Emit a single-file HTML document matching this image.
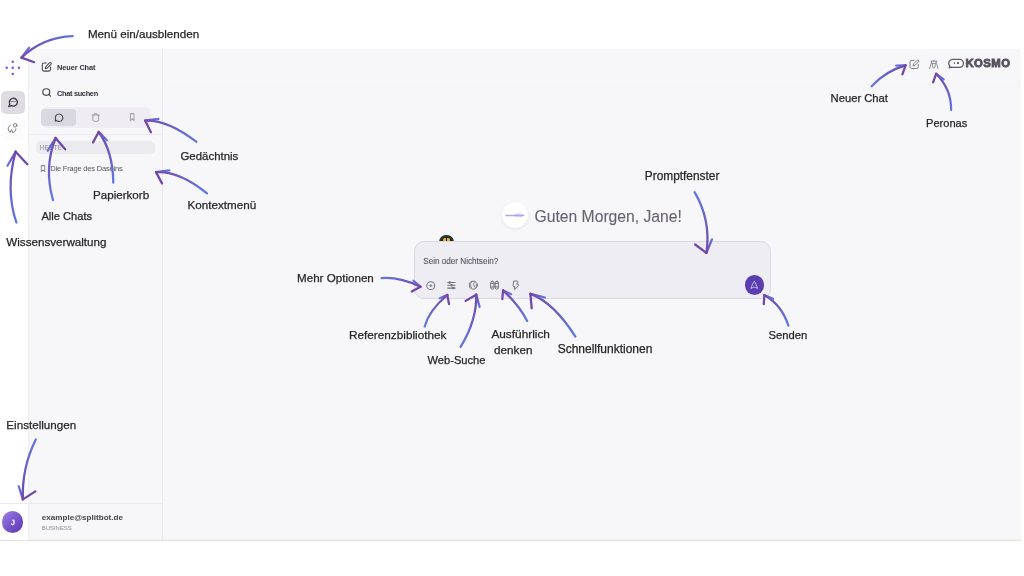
<!DOCTYPE html><html><head><meta charset="utf-8"><style>
*{box-sizing:border-box;margin:0;padding:0}
html,body{width:1024px;height:576px;overflow:hidden;background:#fff}
body{position:relative;font-family:"Liberation Sans",sans-serif}
.abs,.t,.lbl,.ic{position:absolute}
.t,.lbl{white-space:nowrap}
.lbl{-webkit-text-stroke:0.25px #262626}
.ic{overflow:visible}
#wrap{position:absolute;left:0;top:0;width:1024px;height:576px;will-change:transform}
</style></head><body><div id="wrap">
<div class="abs" style="left:0px;top:49px;width:1021px;height:491px;background:#f7f7f9;"></div>
<div class="abs" style="left:0px;top:539px;width:1021px;height:1px;background:#f1f1f3;"></div>
<div class="abs" style="left:0px;top:540px;width:1021px;height:1px;background:#e3e3dc;"></div>
<div class="abs" style="left:163px;top:83px;width:858px;height:8px;background:linear-gradient(#f7f7f9,#f6f5f8 50%,#f7f7f9);"></div>
<div class="abs" style="left:0px;top:49px;width:28px;height:491px;background:#ffffff;"></div>
<div class="abs" style="left:28px;top:49px;width:1px;height:491px;background:#f0eff3;"></div>
<div class="abs" style="left:162px;top:49px;width:1px;height:491px;background:#e9e8ed;"></div>
<div class="abs" style="left:28px;top:134px;width:134px;height:1px;background:#ebeaee;"></div>
<div class="abs" style="left:0px;top:503px;width:162px;height:1px;background:#ebeaee;"></div>
<svg class="ic" style="left:4px;top:58px;width:18px;height:20px" viewBox="4 58 18 20" fill="#8446ec" stroke="none" stroke-width="0" stroke-linecap="round" stroke-linejoin="round"><circle cx="12.8" cy="61.699999999999996" r="1.2"/><circle cx="6.700000000000001" cy="67.8" r="1.2"/><circle cx="12.8" cy="67.8" r="1.2"/><circle cx="18.9" cy="67.8" r="1.2"/><circle cx="12.8" cy="73.89999999999999" r="1.2"/></svg>
<div class="abs" style="left:1px;top:90.5px;width:23.7px;height:23.3px;background:#dedce2;border-radius:5px"></div>
<svg class="ic" style="left:7.53px;top:96.66px;width:10.74px;height:10.38px;" viewBox="0 0 24 24" preserveAspectRatio="none" fill="none" stroke="#47424e" stroke-width="3.30" stroke-linecap="round" stroke-linejoin="round"><path d="M7.9 20A9 9 0 1 0 4 16.1L2 22Z"/></svg>
<div class="abs" style="left:10.3px;top:101.2px;width:5.4px;height:1.2px;background:#8f8a96;border-radius:1px"></div>
<div class="abs" style="left:1px;top:115.8px;width:24.7px;height:24px;background:#fcfcfd;border-radius:5px"></div>
<svg class="ic" style="left:4px;top:119px;width:18px;height:18px" viewBox="4 119 18 18" fill="none" stroke="#827d8b" stroke-width="1.0" stroke-linecap="round" stroke-linejoin="round"><circle cx="15.2" cy="125.3" r="1.8"/><path d="M10.3 125.2C7.6 126.6 7.4 131.2 10.2 132.2"/><path d="M10.2 132.2 11.6 129.6 12.6 132.4"/><path d="M12.6 132.4C14.6 132.6 15.9 131 15.9 128.9"/></svg>
<svg class="ic" style="left:40px;top:60px;width:14px;height:14px" viewBox="40 60 14 14" fill="none" stroke="#47424e" stroke-width="1.05" stroke-linecap="round" stroke-linejoin="round"><path d="M46.3 62.95H44.1a1.8 1.8 0 0 0-1.8 1.8v4.55a1.8 1.8 0 0 0 1.8 1.8h4.7a1.8 1.8 0 0 0 1.8-1.8v-2.2"/><path d="M49.4 62.9a1.05 1.05 0 0 1 1.5 1.5l-3.7 3.7-1.9.55.55-1.9z"/></svg>
<div class="t" style="left:57.10px;top:64.14px;font-size:7.4px;line-height:7.4px;font-weight:700;color:#332e3c;letter-spacing:-0.12px;">Neuer Chat</div>
<svg class="ic" style="left:41.80px;top:87.84px;width:9.30px;height:8.82px;" viewBox="0 0 24 24" preserveAspectRatio="none" fill="none" stroke="#47424e" stroke-width="3.05" stroke-linecap="round" stroke-linejoin="round"><circle cx="11" cy="11" r="9"/><path d="m22 22-4.6-4.6"/></svg>
<div class="t" style="left:57.00px;top:89.84px;font-size:7.4px;line-height:7.4px;font-weight:700;color:#332e3c;letter-spacing:-0.32px;">Chat suchen</div>
<div class="abs" style="left:40.5px;top:107.2px;width:110.5px;height:20.4px;background:#efedf3;border-radius:6px"></div>
<div class="abs" style="left:41.2px;top:109px;width:34.7px;height:16.7px;background:#d9d7df;border-radius:4px"></div>
<svg class="ic" style="left:52px;top:111px;width:14px;height:13px" viewBox="52 111 14 13" fill="none" stroke="#4a4550" stroke-width="1.1" stroke-linecap="round" stroke-linejoin="round"><path d="M56.3 120.3A3.75 3.75 0 1 0 55.5 118.9L55.3 121.1Z"/></svg>
<svg class="ic" style="left:89px;top:111px;width:14px;height:13px" viewBox="89 111 14 13" fill="none" stroke="#a29da8" stroke-width="1.0" stroke-linecap="round" stroke-linejoin="round"><path d="M92.1 115H99.3M94.4 115v-.8a.7.7 0 0 1 .7-.7h1.2a.7.7 0 0 1 .7.7v.8M92.9 115.1v4.8a1.3 1.3 0 0 0 1.3 1.3h3.1a1.3 1.3 0 0 0 1.3-1.3v-4.8"/></svg>
<svg class="ic" style="left:128.62px;top:113.37px;width:6.36px;height:8.16px;" viewBox="0 0 24 24" preserveAspectRatio="none" fill="none" stroke="#a29da8" stroke-width="3.64" stroke-linecap="round" stroke-linejoin="round"><path d="m19 22-7-5-7 5V4a2 2 0 0 1 2-2h10a2 2 0 0 1 2 2z"/></svg>
<div class="abs" style="left:35.6px;top:141.1px;width:119.3px;height:13.1px;background:#ebeaee;border-radius:5px"></div>
<div class="t" style="left:39.80px;top:145.07px;font-size:6.3px;line-height:6.3px;font-weight:400;color:#8f8a96;letter-spacing:0.2px;">HEUTE</div>
<svg class="ic" style="left:39.80px;top:164.51px;width:6.00px;height:7.08px;" viewBox="0 0 24 24" preserveAspectRatio="none" fill="none" stroke="#8a8590" stroke-width="3.67" stroke-linecap="round" stroke-linejoin="round"><path d="m19 22-7-5-7 5V4a2 2 0 0 1 2-2h10a2 2 0 0 1 2 2z"/></svg>
<div class="t" style="left:50.20px;top:165.49px;font-size:7.45px;line-height:7.45px;font-weight:400;color:#58535f;letter-spacing:-0.16px;">Die Frage des Daseins</div>
<div class="abs" style="left:1.9px;top:511.3px;width:21.6px;height:21.6px;background:linear-gradient(135deg,#9d7fea,#5a32ad);border-radius:50%"></div>
<div class="t" style="left:10.90px;top:519.07px;font-size:7.6px;line-height:7.6px;font-weight:400;color:#ffffff;letter-spacing:0px;-webkit-text-stroke:0.3px #fff">J</div>
<div class="t" style="left:41.80px;top:513.94px;font-size:8.1px;line-height:8.1px;font-weight:700;color:#48434f;letter-spacing:0px;">example@splitbot.de</div>
<div class="t" style="left:41.80px;top:524.82px;font-size:6.0px;line-height:6.0px;font-weight:400;color:#8f8a96;letter-spacing:-0.05px;">BUSINESS</div>
<svg class="ic" style="left:906px;top:56px;width:16px;height:16px" viewBox="906 56 16 16" fill="none" stroke="#7d7885" stroke-width="1.0" stroke-linecap="round" stroke-linejoin="round"><g transform="translate(867.7 -2.6)"><path d="M46.3 62.95H44.1a1.8 1.8 0 0 0-1.8 1.8v4.55a1.8 1.8 0 0 0 1.8 1.8h4.7a1.8 1.8 0 0 0 1.8-1.8v-2.2"/><path d="M49.4 62.9a1.05 1.05 0 0 1 1.5 1.5l-3.7 3.7-1.9.55.55-1.9z"/></g></svg>
<svg class="ic" style="left:927px;top:58px;width:14px;height:12px" viewBox="927 58 14 12" fill="none" stroke="#7d7885" stroke-width="0.85" stroke-linecap="round" stroke-linejoin="round"><path d="M931 61.2h5.7M931.5 61.2v2.2h4.7v-2.2M933.85 60.3v.9M932.4 63.8q0 4.5 1.45 4.5t1.45-4.5M931 63.7l-1.3 4.8M936.7 63.7l1.3 4.8"/></svg>
<svg class="ic" style="left:946px;top:56px;width:20px;height:14px" viewBox="946 56 20 14" fill="none" stroke="#625c6a" stroke-width="1.3" stroke-linecap="round" stroke-linejoin="round"><path d="M953 59.3h6.4a4.05 4.05 0 0 1 0 8.1h-6.4c-.5 0-1-.1-1.5-.3l-2.3.8.5-1.9a4.05 4.05 0 0 1 3.3-6.7z"/></svg>
<div class="abs" style="left:953.6px;top:62px;width:1.5px;height:2.2px;background:#625c6a;border-radius:.6px"></div>
<div class="abs" style="left:957.3px;top:62px;width:1.5px;height:2.2px;background:#625c6a;border-radius:.6px"></div>
<div class="t" style="left:965.50px;top:57.83px;font-size:11.3px;line-height:11.3px;font-weight:700;color:#57515e;letter-spacing:0.45px;-webkit-text-stroke:0.85px #57515e">KOSMO</div>
<div class="abs" style="left:502px;top:202.4px;width:25.7px;height:25.7px;background:#fff;border-radius:50%;box-shadow:0 1px 3px rgba(60,50,90,.12)"></div>
<svg class="ic" style="left:503px;top:210px;width:24px;height:10px" viewBox="503 210 24 10" fill="none" stroke="#a99cf0" stroke-width="1.2" stroke-linecap="round" stroke-linejoin="round"><ellipse cx="518.8" cy="215.2" rx="4.6" ry="1.9" fill="#dcd6f8" stroke="none"/><path d="M506 215.5h17.6" stroke="#aea5ee" stroke-width="1.5"/></svg>
<div class="t" style="left:534.50px;top:208.61px;font-size:15.7px;line-height:15.7px;font-weight:400;color:#67626f;letter-spacing:0px;-webkit-text-stroke:0.1px #67626f">Guten Morgen, Jane!</div>
<div class="abs" style="left:439px;top:234.6px;width:15px;height:7.5px;border-radius:8px 8px 0 0;background:#1e3a2b;overflow:hidden"><div class="abs" style="left:2.2px;top:2.2px;width:10.6px;height:8px;border-radius:6px 6px 0 0;background:#2a1a10"></div><div class="abs" style="left:4.4px;top:3.6px;width:3px;height:4px;background:#e9b030;border-radius:1.5px 0 0 0"></div><div class="abs" style="left:7.6px;top:3.6px;width:3px;height:4px;background:#e9b030;border-radius:0 1.5px 0 0"></div></div>
<div class="abs" style="left:414.3px;top:240.8px;width:356.7px;height:58.4px;background:#efedf4;border-radius:10px;border:1px solid #dcd8e3"></div>
<div class="t" style="left:423.20px;top:258.36px;font-size:8.2px;line-height:8.2px;font-weight:400;color:#57525f;letter-spacing:-0.02px;-webkit-text-stroke:0.1px #57525f">Sein oder Nichtsein?</div>
<svg class="ic" style="left:425.81px;top:280.52px;width:9.48px;height:9.36px;" viewBox="0 0 24 24" preserveAspectRatio="none" fill="none" stroke="#75707d" stroke-width="2.55" stroke-linecap="round" stroke-linejoin="round"><circle cx="12" cy="12" r="10"/><path d="M9 12h6"/><path d="M12 9v6"/></svg>
<svg class="ic" style="left:447.31px;top:280.94px;width:8.88px;height:8.52px;" viewBox="0 0 24 24" preserveAspectRatio="none" fill="none" stroke="#75707d" stroke-width="3.03" stroke-linecap="round" stroke-linejoin="round"><path d="M22 4h-12M5 4H2M22 12h-7M10 12H2M22 20h-3M14 20H2"/><circle cx="7.5" cy="4" r="2" /><circle cx="12.5" cy="12" r="2"/><circle cx="17" cy="20" r="2"/></svg>
<svg class="ic" style="left:466px;top:278px;width:15px;height:14px" viewBox="466 278 15 14" fill="none" stroke="#75707d" stroke-width="0.95" stroke-linecap="round" stroke-linejoin="round"><circle cx="473.35" cy="285.15" r="4.05"/><path d="M472.2 281.6c-1.5 1-2.1 2.6-1.7 4.3.2.9.8 1.3 1.3 1.7"/><path d="M475 282.2c-.9.6-1.6 1.6-1.5 2.6.1.9.9 1.3 1.5 1.9.4.5.3 1.1.1 1.6"/><path d="M476.5 284.3c-.4.9-.3 1.6.1 2.3"/></svg>
<svg class="ic" style="left:489px;top:279px;width:11px;height:12px" viewBox="489 279 11 12" fill="none" stroke="#75707d" stroke-width="1.0" stroke-linecap="round" stroke-linejoin="round"><rect x="490.7" y="281.2" width="3.2" height="8" rx="1.6"/><rect x="495.2" y="281.2" width="3.2" height="8" rx="1.6"/><path d="M490.7 283.3h7.7M490.7 287h3.2M495.2 287h3.2"/></svg>
<svg class="ic" style="left:511px;top:279px;width:10px;height:12px" viewBox="511 279 10 12" fill="none" stroke="#75707d" stroke-width="1.0" stroke-linecap="round" stroke-linejoin="round"><path d="M514 281.1h3.2c.8 0 1 .6.7 1.2l-1.2 1.9h1.2c.8 0 1 .7.5 1.3l-3.3 3.8c-.5.5-1.1.1-.9-.5l.8-2.3h-1.2c-.8 0-1-.6-.8-1.2z"/></svg>
<div class="abs" style="left:744.6px;top:275.3px;width:19.5px;height:19.5px;background:#5a3db0;border-radius:50%"></div>
<svg class="ic" style="left:748px;top:278px;width:13px;height:14px" viewBox="748 278 13 14" fill="none" stroke="#d3c9f0" stroke-width="0.95" stroke-linecap="round" stroke-linejoin="round"><path d="M754.3 281.6c-1.3 1.2-2.7 4.1-3.1 6.9l1.4-.85c1.05-.6 2.35-.6 3.4 0l1.4.85c-.4-2.8-1.8-5.7-3.1-6.9z"/></svg>
<div class="lbl" style="left:87.90px;top:28.34px;font-size:11.65px;line-height:11.65px;color:#262626">Menü ein/ausblenden</div>
<div class="lbl" style="left:180.40px;top:150.90px;font-size:11.46px;line-height:11.46px;color:#262626">Gedächtnis</div>
<div class="lbl" style="left:187.60px;top:199.14px;font-size:11.65px;line-height:11.65px;color:#262626">Kontextmenü</div>
<div class="lbl" style="left:93.00px;top:188.92px;font-size:11.61px;line-height:11.61px;color:#262626">Papierkorb</div>
<div class="lbl" style="left:41.40px;top:210.77px;font-size:11.14px;line-height:11.14px;color:#262626">Alle Chats</div>
<div class="lbl" style="left:6.25px;top:236.14px;font-size:11.65px;line-height:11.65px;color:#262626">Wissensverwaltung</div>
<div class="lbl" style="left:6.35px;top:419.15px;font-size:11.63px;line-height:11.63px;color:#262626">Einstellungen</div>
<div class="lbl" style="left:644.80px;top:171.34px;font-size:11.88px;line-height:11.88px;color:#262626">Promptfenster</div>
<div class="lbl" style="left:297.00px;top:272.16px;font-size:11.62px;line-height:11.62px;color:#262626">Mehr Optionen</div>
<div class="lbl" style="left:349.00px;top:328.78px;font-size:11.77px;line-height:11.77px;color:#262626">Referenzbibliothek</div>
<div class="lbl" style="left:427.50px;top:354.76px;font-size:11.15px;line-height:11.15px;color:#262626">Web-Suche</div>
<div class="lbl" style="left:491.40px;top:329.48px;font-size:11.84px;line-height:11.84px;color:#262626">Ausführlich</div>
<div class="lbl" style="left:494.00px;top:343.59px;font-size:11.71px;line-height:11.71px;color:#262626">denken</div>
<div class="lbl" style="left:557.70px;top:342.85px;font-size:11.99px;line-height:11.99px;color:#262626">Schnellfunktionen</div>
<div class="lbl" style="left:768.50px;top:329.50px;font-size:11.22px;line-height:11.22px;color:#262626">Senden</div>
<div class="lbl" style="left:830.60px;top:93.31px;font-size:11.21px;line-height:11.21px;color:#262626">Neuer Chat</div>
<div class="lbl" style="left:926.00px;top:117.82px;font-size:11.08px;line-height:11.08px;color:#262626">Peronas</div>
<svg class="abs" style="left:0;top:0;width:1024px;height:576px;overflow:visible" viewBox="0 0 1024 576"><defs><linearGradient id="g0" gradientUnits="userSpaceOnUse" x1="72.75" y1="36.1" x2="21.5" y2="57.6"><stop offset="0" stop-color="#6077e2"/><stop offset="1" stop-color="#7147a8"/></linearGradient><linearGradient id="w0" gradientUnits="userSpaceOnUse" x1="29.1" y1="47.8" x2="21.5" y2="57.6"><stop offset="0" stop-color="#6077e2"/><stop offset="1" stop-color="#7147a8"/></linearGradient><linearGradient id="g1" gradientUnits="userSpaceOnUse" x1="196.25" y1="141.7" x2="145.2" y2="120.6"><stop offset="0" stop-color="#6077e2"/><stop offset="1" stop-color="#7147a8"/></linearGradient><linearGradient id="w1" gradientUnits="userSpaceOnUse" x1="158.5" y1="118.9" x2="145.2" y2="120.6"><stop offset="0" stop-color="#6077e2"/><stop offset="1" stop-color="#7147a8"/></linearGradient><linearGradient id="g2" gradientUnits="userSpaceOnUse" x1="207" y1="193.4" x2="156" y2="172.1"><stop offset="0" stop-color="#6077e2"/><stop offset="1" stop-color="#7147a8"/></linearGradient><linearGradient id="w2" gradientUnits="userSpaceOnUse" x1="169.3" y1="170.3" x2="156" y2="172.1"><stop offset="0" stop-color="#6077e2"/><stop offset="1" stop-color="#7147a8"/></linearGradient><linearGradient id="g3" gradientUnits="userSpaceOnUse" x1="113.3" y1="182.7" x2="98.7" y2="132"><stop offset="0" stop-color="#6077e2"/><stop offset="1" stop-color="#7147a8"/></linearGradient><linearGradient id="w3" gradientUnits="userSpaceOnUse" x1="106.9" y1="140.3" x2="98.7" y2="132"><stop offset="0" stop-color="#6077e2"/><stop offset="1" stop-color="#7147a8"/></linearGradient><linearGradient id="g4" gradientUnits="userSpaceOnUse" x1="53" y1="200" x2="55.6" y2="138"><stop offset="0" stop-color="#6077e2"/><stop offset="1" stop-color="#7147a8"/></linearGradient><linearGradient id="w4" gradientUnits="userSpaceOnUse" x1="47.8" y1="150.7" x2="55.6" y2="138"><stop offset="0" stop-color="#6077e2"/><stop offset="1" stop-color="#7147a8"/></linearGradient><linearGradient id="g5" gradientUnits="userSpaceOnUse" x1="16.4" y1="222.5" x2="15.6" y2="151.7"><stop offset="0" stop-color="#6077e2"/><stop offset="1" stop-color="#7147a8"/></linearGradient><linearGradient id="w5" gradientUnits="userSpaceOnUse" x1="7.5" y1="165.8" x2="15.6" y2="151.7"><stop offset="0" stop-color="#6077e2"/><stop offset="1" stop-color="#7147a8"/></linearGradient><linearGradient id="g6" gradientUnits="userSpaceOnUse" x1="35.8" y1="439.4" x2="22.9" y2="499.4"><stop offset="0" stop-color="#6077e2"/><stop offset="1" stop-color="#7147a8"/></linearGradient><linearGradient id="w6" gradientUnits="userSpaceOnUse" x1="18.75" y1="486.25" x2="22.9" y2="499.4"><stop offset="0" stop-color="#6077e2"/><stop offset="1" stop-color="#7147a8"/></linearGradient><linearGradient id="g7" gradientUnits="userSpaceOnUse" x1="694.6" y1="192.1" x2="706.4" y2="252.9"><stop offset="0" stop-color="#6077e2"/><stop offset="1" stop-color="#7147a8"/></linearGradient><linearGradient id="w7" gradientUnits="userSpaceOnUse" x1="712" y1="239.3" x2="706.4" y2="252.9"><stop offset="0" stop-color="#6077e2"/><stop offset="1" stop-color="#7147a8"/></linearGradient><linearGradient id="g8" gradientUnits="userSpaceOnUse" x1="381.55" y1="278.07" x2="420.46" y2="286.76"><stop offset="0" stop-color="#6077e2"/><stop offset="1" stop-color="#7147a8"/></linearGradient><linearGradient id="w8" gradientUnits="userSpaceOnUse" x1="413.5" y1="280.8" x2="420.46" y2="286.76"><stop offset="0" stop-color="#6077e2"/><stop offset="1" stop-color="#7147a8"/></linearGradient><linearGradient id="g9" gradientUnits="userSpaceOnUse" x1="424.7" y1="326.5" x2="447.3" y2="295"><stop offset="0" stop-color="#6077e2"/><stop offset="1" stop-color="#7147a8"/></linearGradient><linearGradient id="w9" gradientUnits="userSpaceOnUse" x1="439.8" y1="298.3" x2="447.3" y2="295"><stop offset="0" stop-color="#6077e2"/><stop offset="1" stop-color="#7147a8"/></linearGradient><linearGradient id="g10" gradientUnits="userSpaceOnUse" x1="460.6" y1="346.8" x2="476.25" y2="294.7"><stop offset="0" stop-color="#6077e2"/><stop offset="1" stop-color="#7147a8"/></linearGradient><linearGradient id="w10" gradientUnits="userSpaceOnUse" x1="479.6" y1="306.9" x2="476.25" y2="294.7"><stop offset="0" stop-color="#6077e2"/><stop offset="1" stop-color="#7147a8"/></linearGradient><linearGradient id="g11" gradientUnits="userSpaceOnUse" x1="527.1" y1="320.9" x2="503.1" y2="290.4"><stop offset="0" stop-color="#6077e2"/><stop offset="1" stop-color="#7147a8"/></linearGradient><linearGradient id="w11" gradientUnits="userSpaceOnUse" x1="511.1" y1="294.2" x2="503.1" y2="290.4"><stop offset="0" stop-color="#6077e2"/><stop offset="1" stop-color="#7147a8"/></linearGradient><linearGradient id="g12" gradientUnits="userSpaceOnUse" x1="575.4" y1="336.6" x2="530.4" y2="293.9"><stop offset="0" stop-color="#6077e2"/><stop offset="1" stop-color="#7147a8"/></linearGradient><linearGradient id="w12" gradientUnits="userSpaceOnUse" x1="545" y1="297.5" x2="530.4" y2="293.9"><stop offset="0" stop-color="#6077e2"/><stop offset="1" stop-color="#7147a8"/></linearGradient><linearGradient id="g13" gradientUnits="userSpaceOnUse" x1="788.4" y1="325.6" x2="764.4" y2="295.2"><stop offset="0" stop-color="#6077e2"/><stop offset="1" stop-color="#7147a8"/></linearGradient><linearGradient id="w13" gradientUnits="userSpaceOnUse" x1="773.1" y1="298.9" x2="764.4" y2="295.2"><stop offset="0" stop-color="#6077e2"/><stop offset="1" stop-color="#7147a8"/></linearGradient><linearGradient id="g14" gradientUnits="userSpaceOnUse" x1="871.7" y1="86.2" x2="905.6" y2="65.4"><stop offset="0" stop-color="#6077e2"/><stop offset="1" stop-color="#7147a8"/></linearGradient><linearGradient id="w14" gradientUnits="userSpaceOnUse" x1="896.2" y1="65.7" x2="905.6" y2="65.4"><stop offset="0" stop-color="#6077e2"/><stop offset="1" stop-color="#7147a8"/></linearGradient><linearGradient id="g15" gradientUnits="userSpaceOnUse" x1="951.1" y1="110" x2="936.1" y2="73.8"><stop offset="0" stop-color="#6077e2"/><stop offset="1" stop-color="#7147a8"/></linearGradient><linearGradient id="w15" gradientUnits="userSpaceOnUse" x1="943.7" y1="79.3" x2="936.1" y2="73.8"><stop offset="0" stop-color="#6077e2"/><stop offset="1" stop-color="#7147a8"/></linearGradient></defs><g fill="none" stroke-width="2.25" stroke-linecap="round" stroke-linejoin="round"><path d="M72.75 36.1Q42.97 37.07 21.5 57.6" stroke="url(#g0)"/><path d="M29.1 47.8L21.5 57.6" stroke="url(#w0)"/><path d="M34.2 62.2L21.5 57.6" stroke="#7147a8"/><path d="M196.25 141.7Q167.28 119.45 145.2 120.6" stroke="url(#g1)"/><path d="M158.5 118.9L145.2 120.6" stroke="url(#w1)"/><path d="M150.9 132.3L145.2 120.6" stroke="#7147a8"/><path d="M207 193.4Q179.70 170.85 156 172.1" stroke="url(#g2)"/><path d="M169.3 170.3L156 172.1" stroke="url(#w2)"/><path d="M162 183.4L156 172.1" stroke="#7147a8"/><path d="M113.3 182.7Q113.00 151.65 98.7 132" stroke="url(#g3)"/><path d="M106.9 140.3L98.7 132" stroke="url(#w3)"/><path d="M93 142.4L98.7 132" stroke="#7147a8"/><path d="M53 200Q43.70 167.80 55.6 138" stroke="url(#g4)"/><path d="M47.8 150.7L55.6 138" stroke="url(#w4)"/><path d="M65.2 149.3L55.6 138" stroke="#7147a8"/><path d="M16.4 222.5Q5.20 189.70 15.6 151.7" stroke="url(#g5)"/><path d="M7.5 165.8L15.6 151.7" stroke="url(#w5)"/><path d="M27.3 164.2L15.6 151.7" stroke="#7147a8"/><path d="M35.8 439.4Q21.65 467.80 22.9 499.4" stroke="url(#g6)"/><path d="M18.75 486.25L22.9 499.4" stroke="url(#w6)"/><path d="M35.4 491.4L22.9 499.4" stroke="#7147a8"/><path d="M694.6 192.1Q711.30 220.50 706.4 252.9" stroke="url(#g7)"/><path d="M712 239.3L706.4 252.9" stroke="url(#w7)"/><path d="M695.1 244.5L706.4 252.9" stroke="#7147a8"/><path d="M381.55 278.07Q399.79 276.79 420.46 286.76" stroke="url(#g8)"/><path d="M413.5 280.8L420.46 286.76" stroke="url(#w8)"/><path d="M411.8 291.4L420.46 286.76" stroke="#7147a8"/><path d="M424.7 326.5Q428.60 310.85 447.3 295" stroke="url(#g9)"/><path d="M439.8 298.3L447.3 295" stroke="url(#w9)"/><path d="M449 304L447.3 295" stroke="#7147a8"/><path d="M460.6 346.8Q476.78 320.65 476.25 294.7" stroke="url(#g10)"/><path d="M479.6 306.9L476.25 294.7" stroke="url(#w10)"/><path d="M465.6 300.9L476.25 294.7" stroke="#7147a8"/><path d="M527.1 320.9Q519.70 305.95 503.1 290.4" stroke="url(#g11)"/><path d="M511.1 294.2L503.1 290.4" stroke="url(#w11)"/><path d="M502.3 299.1L503.1 290.4" stroke="#7147a8"/><path d="M575.4 336.6Q553.70 302.55 530.4 293.9" stroke="url(#g12)"/><path d="M545 297.5L530.4 293.9" stroke="url(#w12)"/><path d="M531.7 308.4L530.4 293.9" stroke="#7147a8"/><path d="M788.4 325.6Q781.60 304.60 764.4 295.2" stroke="url(#g13)"/><path d="M773.1 298.9L764.4 295.2" stroke="url(#w13)"/><path d="M763.75 304.1L764.4 295.2" stroke="#7147a8"/><path d="M871.7 86.2Q885.35 71.20 905.6 65.4" stroke="url(#g14)"/><path d="M896.2 65.7L905.6 65.4" stroke="url(#w14)"/><path d="M902.4 74.3L905.6 65.4" stroke="#7147a8"/><path d="M951.1 110Q951.40 89.10 936.1 73.8" stroke="url(#g15)"/><path d="M943.7 79.3L936.1 73.8" stroke="url(#w15)"/><path d="M933.1 82.3L936.1 73.8" stroke="#7147a8"/></g></svg>
</div></body></html>
